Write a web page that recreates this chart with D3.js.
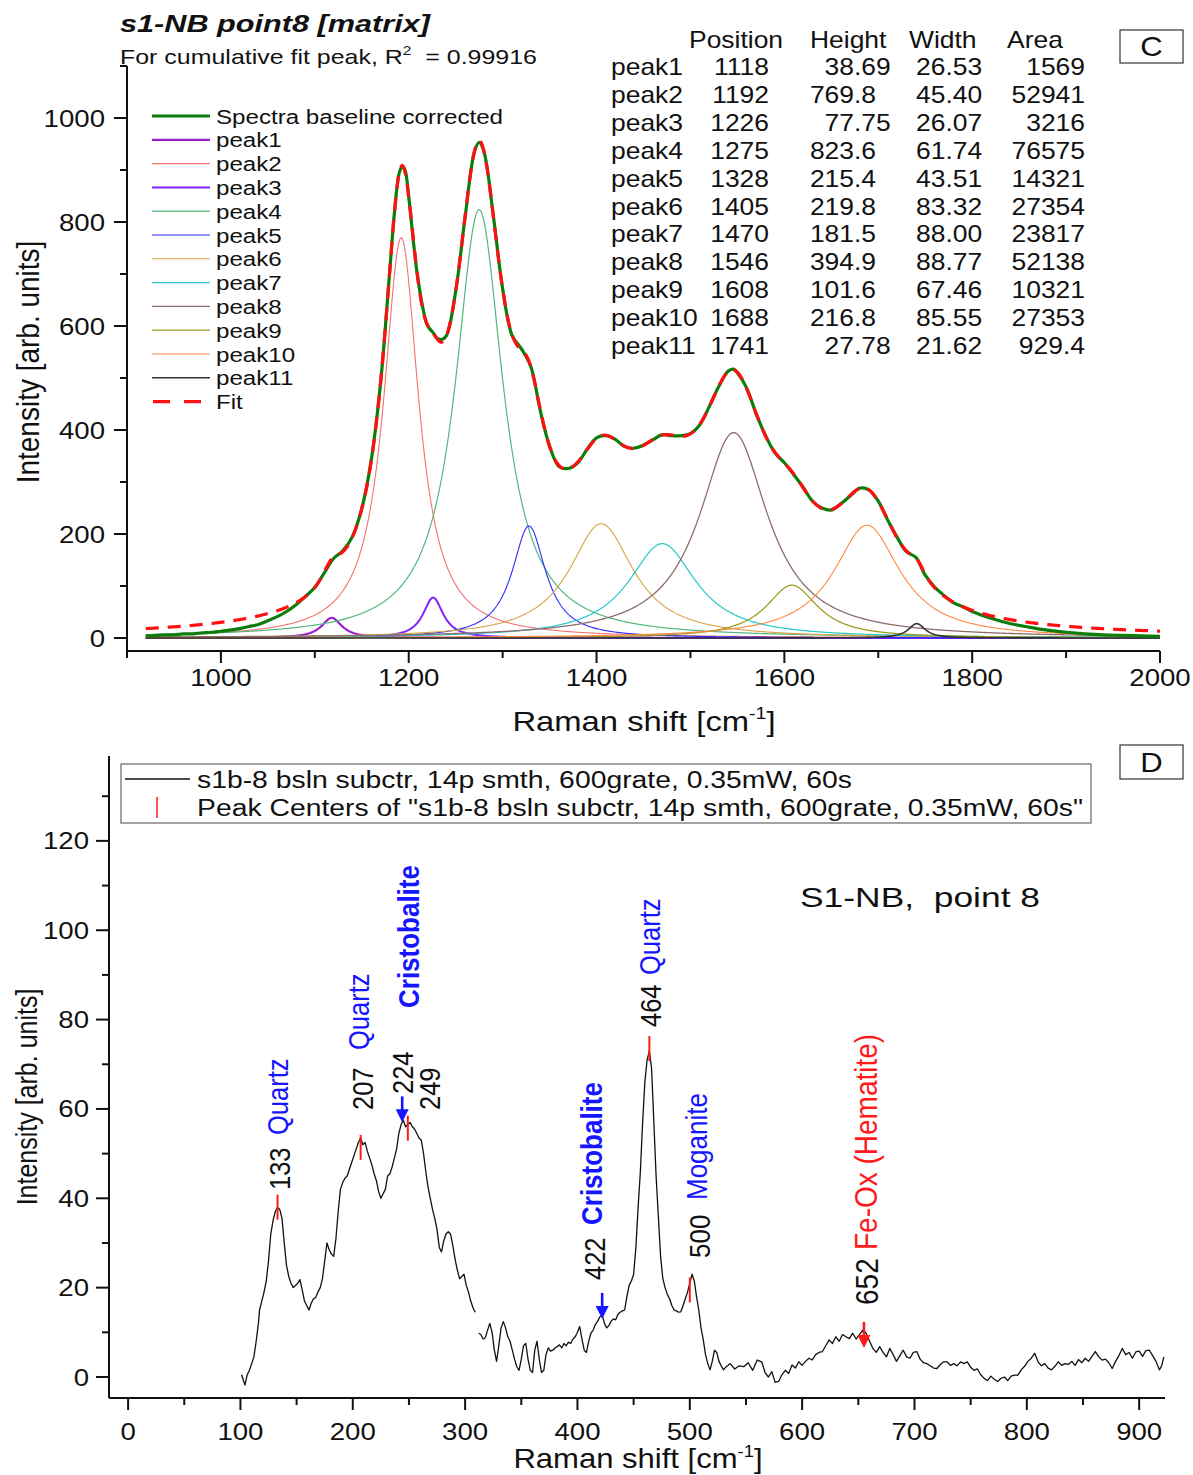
<!DOCTYPE html>
<html>
<head>
<meta charset="utf-8">
<script src="https://cdn.jsdelivr.net/npm/d3@7"></script>
<style>
  html, body { margin: 0; padding: 0; background: #fff; }
  svg { display: block; font-family: "Liberation Sans", Arial, Helvetica, sans-serif; }
  svg text { white-space: pre; }
</style>
</head>
<body>
<svg id="fig" width="1193" height="1475"></svg>
<script>
// ---------------- Panel C: peak fit of the baseline-corrected spectrum ----------------
const peakNames    = ["peak1","peak2","peak3","peak4","peak5","peak6","peak7","peak8","peak9","peak10","peak11"];
const peakPosition = [1118, 1192, 1226, 1275, 1328, 1405, 1470, 1546, 1608, 1688, 1741];
const peakHeight   = [38.69, 769.8, 77.75, 823.6, 215.4, 219.8, 181.5, 394.9, 101.6, 216.8, 27.78];
const peakWidth    = [26.53, 45.40, 26.07, 61.74, 43.51, 83.32, 88.00, 88.77, 67.46, 85.55, 21.62];
const peakArea     = [1569, 52941, 3216, 76575, 14321, 27354, 23817, 52138, 10321, 27353, 929.4];
const fitR2 = 0.99916;

// measured spectrum (baseline corrected)
const specX = [920,930,940,950,960,970,980,990,1000,1010,1020,1030,1040,1050,1060,1070,1080,1090,1100,1110,
  1120,1130,1140,1150,1160,1170,1180,1185,1190,1193,1196,1200,1210,1220,1226,1230,1235,1240,1250,1260,
  1270,1275,1280,1290,1300,1310,1320,1330,1340,1350,1360,1370,1380,1390,1400,1410,1420,1430,1440,1450,
  1460,1470,1480,1490,1500,1510,1520,1530,1540,1546,1550,1560,1570,1580,1590,1600,1610,1620,1630,1640,
  1650,1660,1670,1680,1690,1700,1710,1720,1730,1740,1750,1760,1770,1780,1790,1800,1820,1840,1860,1880,
  1900,1920,1940,1960,1980,2000];
const specY = [4,5,6,6,8,8,10,11,13,15,18,22,26,33,41,51,64,80,97,125,
  153,168,195,249,341,490,711,822,895,906,900,848,688,601,587,577,574,581,667,809,
  935,953,936,813,672,582,556,522,438,369,330,326,337,363,385,389,382,368,365,371,
  381,391,389,389,393,410,445,483,513,517,510,480,431,389,356,337,314,290,263,250,
  246,258,273,288,285,263,227,194,166,155,121,98,82,68,60,51,38,28,21,15,
  11,8,6,5,4,3];

const legendLabels = ["Spectra baseline corrected", ...peakNames, "Fit"];
const yTicksC = [0, 200, 400, 600, 800, 1000];
const xTicksC = [1000, 1200, 1400, 1600, 1800, 2000];

// ---------------- Panel D: Raman spectrum with peak centres ----------------
const ramanSeg1X = [101,103,104,106,108,110,112,114,116,117,119,121,123,125,127,129,131,133,135,137,139,141,143,145,147,149,
  151,153,155,157,159,161,163,165,167,169,171,173,175,177,179,181,183,185,187,189,191,193,195,197,199,
  201,203,205,207,209,211,213,215,217,219,221,223,225,227,229,231,233,235,237,239,241,243,245,247,249,
  251,253,255,257,259,261,263,265,267,269,271,273,275,277,279,281,283,285,287,289,291,293,295,297,299,
  301,303,305,307,309];
const ramanSeg1Y = [0.5,-1.0,-1.8,0.5,1.5,3.0,4.5,8,12,15,17,19,21.5,26,32,35,37,38,37.5,35.5,30,25,22.5,21,20,20.5,
  21,21.8,19.5,17,16,15,16.5,17.5,17.8,19,20,22,26,30,28.5,27.5,27,31,37,42,43.5,44.5,45,46.5,48,
  49.5,51,52.5,53.5,52,52.5,50.5,49,47.5,45.5,44,41.5,40,41,42,45,45.5,47,49,51,54.5,56.5,57.5,56,56.5,
  57,56,55.5,54.5,53.5,53,50,46,42.5,40,37.5,35.5,33,29,28,30.5,32,32.5,32,29.5,26.5,24,22,22.5,23,
  20.5,19,17,15.5,14.5];
const ramanSeg2X = [312,314,316,318,320,322,324,326,328,330,332,334,336,338,340,342,344,346,348,350,352,354,356,358,360,
  362,364,366,368,370,372,374,376,378,380,382,384,386,388,390,392,394,396,398,400,402,404,406,408,410,
  412,414,416,418,420,422,424,426,428,430,432,434,436,438,440,442,444,446,448,450,452,454,456,458,460,
  462,464,466,468,470,472,474,476,478,480,482,484,486,488,490,492,494,496,498,500,502,504,506,508,510,
  512,514,516,518,520,522,524,526,528,530,532,536,540,544,548,552,556,560,564,567,570,573,576,579,582,
  585,588,591,594,597,600,603,606,609,612,615,618,621,624,627,630,633,636,639,642,645,648,651,654,657,
  660,663,666,669,672,675,678,681,684,687,690,693,696,699,702,705,708,711,714,717,720,723,726,729,732,
  735,738,741,744,747,750,753,756,759,762,765,768,771,774,777,780,783,786,789,792,795,798,801,804,807,
  810,813,816,819,822,825,828,831,834,837,840,843,846,849,852,855,858,861,864,867,870,873,876,879,882,
  885,888,891,894,897,900,903,906,909,912,915,918,920,922];
const ramanSeg2Y = [9.8,9.5,8.5,8.8,10.5,12,10,6,3.5,7,11,12.4,11,9,8,6,4,2.3,1.5,4,7,7.5,4,1.5,1,
  6,8,4,1,1.5,5,6.5,5.8,6,6.5,6.8,7.2,6.5,7.5,7,7.8,7.5,8.5,9,10,11.3,8.5,6,5.5,8,
  9.8,10.5,11.8,12.5,13.5,13.9,12,11,11.5,12.5,13,12.8,14,14.5,14.8,15,18,20.5,21.5,23,29,38,46,57,66,
  71,73,69,57,45,36,27,22,20,18.5,17.5,16,15,14.8,14.5,14.6,16,17.5,19,21,23,21.5,18,15,11,
  8.3,5,3,1.6,3.5,6,5.5,3.5,2.5,1.6,2.2,3,1.8,2.5,2.3,3.2,1.5,3.8,3.4,1.0,0,1.2,-1.2,-1,0.5,
  1.5,0.8,2.7,2,3.4,2.6,3.5,4.2,3.8,5,5.5,5.7,7,8.3,7.5,9,8,9.5,9,8.6,9.8,8.5,9.5,10.5,9.8,
  8,6.4,5.5,6.8,5.5,4.5,6.4,5,3.5,4.8,6,4.5,4.2,5.5,5.7,4,3.2,3,2.5,2,1.9,2.8,3.4,3.4,2.6,
  3,2.5,3.4,3,3.4,2.2,1.5,1.8,0.5,-0.3,-0.8,0.2,-0.5,-1,-0.3,0,-0.8,0.2,0.4,0.4,1.6,2.4,3.5,4.2,5.3,
  3.4,2.5,3,2,1.6,2.4,3.4,2.6,3,2.8,3.5,2.6,3.9,3.2,4.2,3.5,4.6,5.7,4.5,3.8,4,3.2,1.9,3.5,4.8,
  6.4,5,5.5,4.2,5.6,5.8,4.6,5.9,6,4.8,3.5,1.6,2.5,4.5];

const centerX = [133, 207, 249, 464, 500];        // fitted peak centres
const centerY = [38, 51.4, 55.7, 73.5, 19.5];
const bandNumbers  = ["133", "207", "224", "249", "422", "464", "500", "652"];
const bandMinerals = ["Quartz", "Quartz", "Cristobalite", "", "Cristobalite", "Quartz", "Moganite", "Fe-Ox (Hematite)"];
const arrowX    = [244, 422, 655];
const arrowTipY = [57, 13, 6.5];
const yTicksD = [0, 20, 40, 60, 80, 100, 120];
const xTicksD = [0, 100, 200, 300, 400, 500, 600, 700, 800, 900];

// ---------------- drawing ----------------
const SX = 1.15;   // horizontal glyph stretch
const svg = d3.select("#fig");
svg.append("rect").attr("width", 1193).attr("height", 1475).attr("fill", "#fff");

function hText(g, x, y, str, o = {}) {
  const t = g.append("text")
    .attr("transform", `translate(${x},${y}) scale(${SX},1)`)
    .attr("font-size", o.size || 22)
    .attr("fill", o.fill || "#111")
    .attr("text-anchor", o.anchor || "start");
  if (o.weight) t.attr("font-weight", o.weight);
  if (o.fstyle) t.attr("font-style", o.fstyle);
  if (str !== null) t.text(str);
  return t;
}
function vText(g, x, y, str, o = {}) {
  const t = g.append("text")
    .attr("transform", `translate(${x},${y}) rotate(-90) scale(1,${SX})`)
    .attr("font-size", o.size || 25)
    .attr("fill", o.fill || "#111")
    .attr("text-anchor", o.anchor || "start");
  if (o.weight) t.attr("font-weight", o.weight);
  if (str !== null) t.text(str);
  return t;
}
function fitText(g, x, y, str, len, o = {}) {
  const t = g.append("text").attr("x", x).attr("y", y)
    .attr("font-size", o.size || 22).attr("fill", o.fill || "#111")
    .attr("textLength", len).attr("lengthAdjust", "spacingAndGlyphs");
  if (o.weight) t.attr("font-weight", o.weight);
  if (o.fstyle) t.attr("font-style", o.fstyle);
  if (str !== null) t.text(str);
  return t;
}

// ===== Panel C =====
const gC = svg.append("g");
const xC = d3.scaleLinear().domain([900, 2000]).range([127, 1160]);
const yC = d3.scaleLinear().domain([-25, 1100]).range([651, 66]);

const lorentz = (x, c, h, w) => h / (1 + 4 * ((x - c) / w) ** 2);
const grid = d3.range(920, 2000.5, 1);

const peakColors = ["#9a1fd2", "#f27272", "#7f22ff", "#52b87e", "#2a2aff", "#d6a445",
                    "#27c9c9", "#8e6c6c", "#9c9c22", "#ff8742", "#333333"];
const peakStroke = [2.2, 1.1, 2.0, 1.2, 1.1, 1.1, 1.2, 1.3, 1.3, 1.1, 1.6];

gC.append("clipPath").attr("id", "clipC").append("rect")
  .attr("x", 127).attr("y", 66).attr("width", 1033).attr("height", 585);
const plotC = gC.append("g").attr("clip-path", "url(#clipC)");
const lineC = d3.line().x(d => xC(d[0])).y(d => yC(d[1]));

// component peaks from the fitted parameters
peakPosition.forEach((c, i) => {
  const pts = grid.map(x => [x, lorentz(x, c, peakHeight[i], peakWidth[i])]);
  plotC.append("path").attr("d", lineC(pts)).attr("fill", "none")
    .attr("stroke", peakColors[i]).attr("stroke-width", peakStroke[i]);
});

// measured spectrum
plotC.append("path")
  .attr("d", d3.line().x(d => xC(d[0])).y(d => yC(d[1])).curve(d3.curveCatmullRom.alpha(0.5))(specX.map((x, i) => [x, specY[i]])))
  .attr("fill", "none").attr("stroke", "#0c7d0c").attr("stroke-width", 3.2);

// cumulative fit = sum of the components
const fitPts = grid.map(x => [x, d3.sum(peakPosition, (c, i) => lorentz(x, c, peakHeight[i], peakWidth[i]))]);
plotC.append("path").attr("d", lineC(fitPts)).attr("fill", "none")
  .attr("stroke", "#ff1010").attr("stroke-width", 3.2).attr("stroke-dasharray", "13,9");

// axes
const axC = gC.append("g").attr("stroke", "#111").attr("stroke-width", 2);
axC.append("line").attr("x1", 127).attr("x2", 127).attr("y1", yC(1100)).attr("y2", yC(-25));
axC.append("line").attr("x1", 127).attr("x2", 1160).attr("y1", 651).attr("y2", 651);
d3.range(0, 1101, 100).forEach(v => {
  const major = v % 200 === 0;
  axC.append("line").attr("x1", 127).attr("x2", 127 - (major ? 13 : 7)).attr("y1", yC(v)).attr("y2", yC(v));
});
d3.range(900, 2001, 100).forEach(v => {
  const major = v % 200 === 0;
  axC.append("line").attr("x1", xC(v)).attr("x2", xC(v)).attr("y1", 651).attr("y2", 651 + (major ? 12 : 7));
});
yTicksC.forEach(v => hText(gC, 105, yC(v) + 8.5, String(v), { size: 24, anchor: "end" }));
xTicksC.forEach(v => hText(gC, xC(v), 686, String(v), { size: 24, anchor: "middle" }));

// axis titles
const xtC = hText(gC, 644, 731, null, { size: 28.5, anchor: "middle" });
xtC.append("tspan").text("Raman shift [cm");
xtC.append("tspan").attr("font-size", 17).attr("dy", -12).text("-1");
xtC.append("tspan").attr("dy", 12).text("]");
vText(gC, 39, 362, "Intensity [arb. units]", { size: 28, anchor: "middle" });

// title
fitText(gC, 120, 32, "s1-NB point8 [matrix]", 310, { size: 24, weight: "bold", fstyle: "italic" });
const sub = gC.append("text").attr("x", 120).attr("y", 64).attr("font-size", 21).attr("fill", "#111")
  .attr("textLength", 417).attr("lengthAdjust", "spacingAndGlyphs");
sub.append("tspan").text("For cumulative fit peak, R");
sub.append("tspan").attr("font-size", 13).attr("dy", -9).text("2");
sub.append("tspan").attr("dy", 9).text("  = " + fitR2);

// legend
const legC = gC.append("g");
const legColors = ["#0c7d0c", ...peakColors, "#ff1010"];
const legStroke = [3.2, ...peakStroke, 3.2];
legendLabels.forEach((lab, i) => {
  const y = 116 + i * 23.8;
  const ln = legC.append("line").attr("x1", 152).attr("x2", 210).attr("y1", y).attr("y2", y)
    .attr("stroke", legColors[i]).attr("stroke-width", legStroke[i]);
  if (lab === "Fit") ln.attr("stroke-dasharray", "17,14").attr("x1", 153);
  hText(legC, 216, y + 7.5, lab, { size: 21 });
});

// parameter table
const tab = gC.append("g");
const tfs = 23, dig = 0.556 * tfs * SX;
const hdrY = 48;
hText(tab, 689, hdrY, "Position", { size: tfs });
hText(tab, 810, hdrY, "Height", { size: tfs });
hText(tab, 909, hdrY, "Width", { size: tfs });
hText(tab, 1007, hdrY, "Area", { size: tfs });
peakNames.forEach((nm, i) => {
  const y = 75 + i * 27.9;
  hText(tab, 611, y, nm, { size: tfs });
  hText(tab, 769, y, String(peakPosition[i]), { size: tfs, anchor: "end" });
  const h = peakHeight[i].toPrecision(4);
  const nInt = h.indexOf(".");
  hText(tab, 854 - nInt * dig, y, h, { size: tfs });
  hText(tab, 916, y, peakWidth[i].toFixed(2), { size: tfs });
  hText(tab, 1085, y, String(peakArea[i]), { size: tfs, anchor: "end" });
});

// panel tag
gC.append("rect").attr("x", 1120).attr("y", 30).attr("width", 63).attr("height", 33)
  .attr("fill", "#fff").attr("stroke", "#333").attr("stroke-width", 1.2);
hText(gC, 1151.5, 56, "C", { size: 27, anchor: "middle" });

// ===== Panel D =====
const gD = svg.append("g");
const xD = d3.scaleLinear().domain([-17, 923]).range([109, 1165]);
const yD = d3.scaleLinear().domain([-4.7, 139]).range([1398, 756]);
const lineD = d3.line().x(d => xD(d[0])).y(d => yD(d[1]));

gD.append("path").attr("d", lineD(ramanSeg1X.map((x, i) => [x, ramanSeg1Y[i]])))
  .attr("fill", "none").attr("stroke", "#111").attr("stroke-width", 1.3).attr("stroke-linejoin", "round");
gD.append("path").attr("d", lineD(ramanSeg2X.map((x, i) => [x, ramanSeg2Y[i]])))
  .attr("fill", "none").attr("stroke", "#111").attr("stroke-width", 1.3).attr("stroke-linejoin", "round");

// peak centre markers
centerX.forEach((x, i) => {
  gD.append("line").attr("x1", xD(x)).attr("x2", xD(x))
    .attr("y1", yD(centerY[i] + 2.8)).attr("y2", yD(centerY[i] - 2.8))
    .attr("stroke", "#ff1a1a").attr("stroke-width", 2);
});

// arrows
const arrowColors = ["#1515ff", "#1515ff", "#ff1a1a"];
arrowX.forEach((x, i) => {
  const px = xD(x), tip = yD(arrowTipY[i]), tail = tip - 26;
  gD.append("line").attr("x1", px).attr("x2", px).attr("y1", tail).attr("y2", tip - 10)
    .attr("stroke", arrowColors[i]).attr("stroke-width", 2.6);
  gD.append("path").attr("d", `M${px - 6.5},${tip - 13} L${px + 6.5},${tip - 13} L${px},${tip} Z`)
    .attr("fill", arrowColors[i]);
});

// band annotations (rotated)
const bandLayout = [
  { nx: 12.5, ny: 1190, mx: 10, my: 1135, size: 25.5 },
  { nx: 12.5, ny: 1110, mx: 8,  my: 1050, size: 25.5 },
  { nx: 33,   ny: 1094, mx: 39, my: 1008, size: 25.5 },
  { nx: 32,   ny: 1110, mx: 0,  my: 0,    size: 25.5 },
  { nx: 3,    ny: 1280, mx: 0,  my: 1225, size: 25.5 },
  { nx: 11.5, ny: 1027, mx: 11, my: 975,  size: 25.5 },
  { nx: 20,   ny: 1258, mx: 17, my: 1200, size: 26 },
  { nx: 17,   ny: 1305, mx: 16, my: 1250, size: 28 }
];
bandNumbers.forEach((num, i) => {
  const L = bandLayout[i], bx = xD(+num);
  vText(gD, bx + L.nx, L.ny, num, { size: L.size, fill: "#111" });
  const m = bandMinerals[i];
  if (m) {
    const isCris = m === "Cristobalite";
    const isFe = m.startsWith("Fe");
    vText(gD, bx + L.mx, L.my, m, {
      size: isCris ? 26 : L.size,
      fill: isFe ? "#ff1a1a" : "#1515ff",
      weight: isCris ? "bold" : null
    });
  }
});

// sample label
fitText(gD, 800, 907, "S1-NB,  point 8", 240, { size: 28 });

// axes
const axD = gD.append("g").attr("stroke", "#111").attr("stroke-width", 2);
axD.append("line").attr("x1", 109).attr("x2", 109).attr("y1", 756).attr("y2", 1398);
axD.append("line").attr("x1", 109).attr("x2", 1165).attr("y1", 1398).attr("y2", 1398);
d3.range(0, 131, 10).forEach(v => {
  const major = v % 20 === 0;
  axD.append("line").attr("x1", 109).attr("x2", 109 - (major ? 13 : 7)).attr("y1", yD(v)).attr("y2", yD(v));
});
d3.range(0, 901, 50).forEach(v => {
  const major = v % 100 === 0;
  axD.append("line").attr("x1", xD(v)).attr("x2", xD(v)).attr("y1", 1398).attr("y2", 1398 + (major ? 12 : 7));
});
yTicksD.forEach(v => hText(gD, 89, yD(v) + 8.5, String(v), { size: 24, anchor: "end" }));
xTicksD.forEach(v => hText(gD, xD(v), 1440, String(v), { size: 24, anchor: "middle" }));

const xtD = hText(gD, 638, 1468, null, { size: 27, anchor: "middle" });
xtD.append("tspan").text("Raman shift [cm");
xtD.append("tspan").attr("font-size", 16).attr("dy", -11).text("-1");
xtD.append("tspan").attr("dy", 11).text("]");
vText(gD, 37, 1097, "Intensity [arb. units]", { size: 25, anchor: "middle" });

// legend box
const legD = gD.append("g");
legD.append("rect").attr("x", 121).attr("y", 764).attr("width", 970).attr("height", 59)
  .attr("fill", "#fff").attr("stroke", "#666").attr("stroke-width", 1.2);
legD.append("line").attr("x1", 125).attr("x2", 190).attr("y1", 779).attr("y2", 779)
  .attr("stroke", "#111").attr("stroke-width", 1.3);
fitText(legD, 197, 788, "s1b-8 bsln subctr, 14p smth, 600grate, 0.35mW, 60s", 655, { size: 23 });
legD.append("line").attr("x1", 157).attr("x2", 157).attr("y1", 797).attr("y2", 818)
  .attr("stroke", "#ff1a1a").attr("stroke-width", 1.5);
fitText(legD, 197, 816, "Peak Centers of \"s1b-8 bsln subctr, 14p smth, 600grate, 0.35mW, 60s\"", 886, { size: 23 });

// panel tag
gD.append("rect").attr("x", 1120).attr("y", 745).attr("width", 63).attr("height", 34)
  .attr("fill", "#fff").attr("stroke", "#333").attr("stroke-width", 1.2);
hText(gD, 1151.5, 772, "D", { size: 27, anchor: "middle" });
</script>
</body>
</html>
